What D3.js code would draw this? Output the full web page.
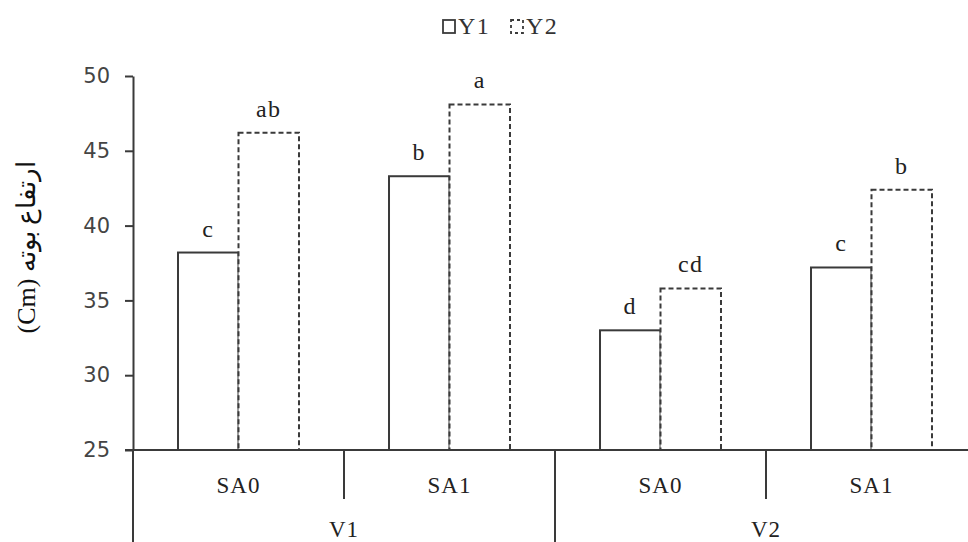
<!DOCTYPE html>
<html>
<head>
<meta charset="utf-8">
<script src="https://cdn.jsdelivr.net/npm/d3@7"></script>
<style>
  html, body { margin: 0; padding: 0; background: #fff; }
  svg { display: block; }
</style>
</head>
<body>
<svg id="chart" width="968" height="542"></svg>
<script>
const groups = ["V1-SA0", "V1-SA1", "V2-SA0", "V2-SA1"];
const subLabels = ["SA0", "SA1", "SA0", "SA1"];
const mainLabels = ["V1", "V2"];
const series = ["Y1", "Y2"];
const y1Values = [38.2, 43.3, 33.0, 37.2];
const y2Values = [46.2, 48.1, 35.8, 42.4];
const y1Letters = ["c", "b", "d", "c"];
const y2Letters = ["ab", "a", "cd", "b"];
const yTicks = [25, 30, 35, 40, 45, 50];
const yTitle = "(Cm) ارتفاع بوته";

const svg = d3.select("#chart");
const serif = "'Liberation Serif', 'DejaVu Serif', serif";
const ink = "#3a3a3a";

const x0 = d3.scaleBand().domain(groups).range([133, 977]).paddingInner(0).paddingOuter(0);
const x1 = d3.scaleBand().domain(series).range([0, x0.bandwidth()]).paddingInner(0).paddingOuter(0.744);
const y = d3.scaleLinear().domain([25, 50]).range([450, 76]);

const rows = groups.map((g, i) => ({
  g, vals: [
    {s: "Y1", v: y1Values[i], l: y1Letters[i]},
    {s: "Y2", v: y2Values[i], l: y2Letters[i]}
  ]
}));

// bars
const gg = svg.selectAll("g.grp").data(rows).join("g")
  .attr("class", "grp")
  .attr("transform", d => `translate(${x0(d.g)},0)`);

gg.selectAll("rect").data(d => d.vals).join("rect")
  .attr("x", d => x1(d.s))
  .attr("y", d => y(d.v))
  .attr("width", x1.bandwidth())
  .attr("height", d => y(25) - y(d.v))
  .attr("fill", "#fff")
  .attr("stroke", ink)
  .attr("stroke-width", 2)
  .attr("stroke-dasharray", d => d.s === "Y2" ? "5,3" : null);

gg.selectAll("text.lt").data(d => d.vals).join("text")
  .attr("class", "lt")
  .attr("x", d => x1(d.s) + x1.bandwidth() / 2)
  .attr("y", d => y(d.v) - 16)
  .attr("text-anchor", "middle")
  .attr("font-family", serif)
  .attr("font-size", 24)
  .attr("letter-spacing", 1.5)
  .attr("fill", "#222")
  .text(d => d.l);

// y axis
const yAxis = d3.axisLeft(y).tickValues(yTicks).tickSize(8).tickSizeOuter(0).tickFormat(d3.format("d"));
const ya = svg.append("g").attr("transform", "translate(133,0)").call(yAxis);
ya.select(".domain").attr("stroke", ink).attr("stroke-width", 2);
ya.selectAll(".tick line").attr("stroke", ink).attr("stroke-width", 2);
ya.selectAll(".tick text")
  .attr("font-family", "'DejaVu Sans', Verdana, sans-serif")
  .attr("font-size", 21)
  .attr("fill", "#444")
  .attr("x", -23);

// extension of y axis below baseline
svg.append("line").attr("x1", 133).attr("x2", 133).attr("y1", 450).attr("y2", 542)
  .attr("stroke", ink).attr("stroke-width", 2);

// baseline
svg.append("line").attr("x1", 125).attr("x2", 968).attr("y1", y(25)).attr("y2", y(25))
  .attr("stroke", ink).attr("stroke-width", 2);

// SA separators (short) and V separator (long)
groups.forEach((g, i) => {
  if (i === 0) return;
  const xs = x0(g);
  svg.append("line").attr("x1", xs).attr("x2", xs).attr("y1", 450)
    .attr("y2", i === 2 ? 542 : 499)
    .attr("stroke", ink).attr("stroke-width", 2);
});

// sub labels
svg.selectAll("text.sub").data(groups).join("text")
  .attr("class", "sub")
  .attr("x", d => x0(d) + x0.bandwidth() / 2)
  .attr("y", 493)
  .attr("text-anchor", "middle")
  .attr("font-family", serif)
  .attr("font-size", 23)
  .attr("letter-spacing", 1)
  .attr("fill", "#222")
  .text((d, i) => subLabels[i]);

// main labels
mainLabels.forEach((m, i) => {
  const a = x0(groups[i * 2]);
  const b = x0(groups[i * 2 + 1]) + x0.bandwidth();
  svg.append("text")
    .attr("x", (a + b) / 2)
    .attr("y", 537)
    .attr("text-anchor", "middle")
    .attr("font-family", serif)
    .attr("font-size", 23)
    .attr("letter-spacing", 1)
    .attr("fill", "#222")
    .text(m);
});

// y title
svg.append("text")
  .attr("transform", "translate(35,247) rotate(-90)")
  .attr("text-anchor", "middle")
  .attr("font-family", serif)
  .attr("font-size", 26)
  .attr("fill", "#111")
  .text(yTitle);

// legend
const leg = svg.append("g");
const legItems = [
  {s: "Y1", x: 443, dash: null},
  {s: "Y2", x: 511, dash: "3,3"}
];
leg.selectAll("rect").data(legItems).join("rect")
  .attr("x", d => d.x).attr("y", 20).attr("width", 12).attr("height", 13)
  .attr("fill", "#fff").attr("stroke", ink).attr("stroke-width", 1.8)
  .attr("stroke-dasharray", d => d.dash);
leg.selectAll("text").data(legItems).join("text")
  .attr("x", d => d.x + 15).attr("y", 34)
  .attr("font-family", serif).attr("font-size", 24).attr("letter-spacing", 1.5).attr("fill", "#333")
  .text(d => d.s);
</script>
</body>
</html>
